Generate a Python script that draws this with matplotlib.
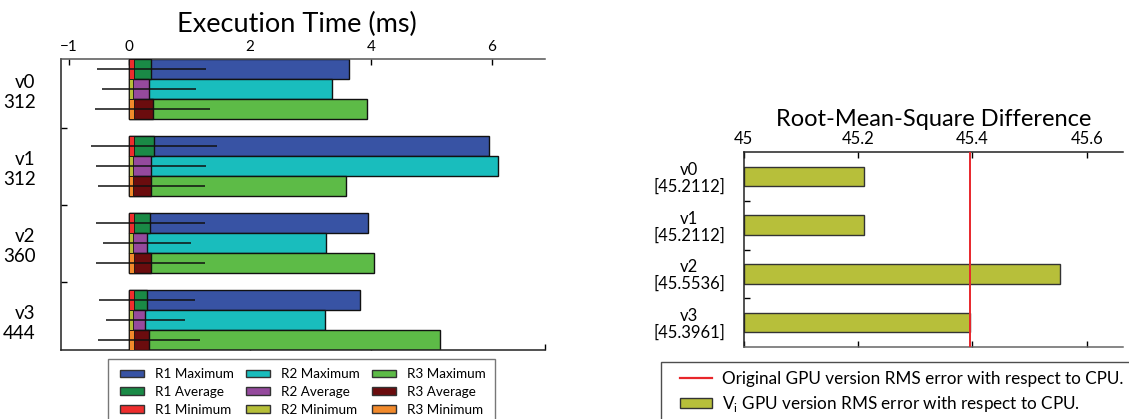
import matplotlib
matplotlib.use("Agg")
import matplotlib.pyplot as plt
from matplotlib.patches import Patch
from matplotlib.lines import Line2D
from matplotlib.legend_handler import HandlerPatch, HandlerLine2D
import numpy as np

plt.rcParams['font.family'] = ['Lato', 'DejaVu Sans']

# ---- execution time data (ms) ----
versions = ['v0', 'v1', 'v2', 'v3']
sizes = [312, 312, 360, 444]

r1_max = [3.64, 5.95, 3.95, 3.82]
r2_max = [3.36, 6.10, 3.25, 3.24]
r3_max = [3.93, 3.59, 4.05, 5.15]
r1_avg = [0.37, 0.41, 0.35, 0.30]
r2_avg = [0.33, 0.37, 0.30, 0.27]
r3_avg = [0.39, 0.37, 0.36, 0.33]
r1_min = [0.08, 0.08, 0.08, 0.08]
r2_min = [0.07, 0.06, 0.06, 0.06]
r3_min = [0.08, 0.07, 0.09, 0.08]
r1_std = [0.90, 1.04, 0.90, 0.79]
r2_std = [0.78, 0.91, 0.73, 0.65]
r3_std = [0.95, 0.89, 0.90, 0.84]

# ---- RMS difference data ----
rms_labels = ['v0', 'v1', 'v2', 'v3']
rms_values = [45.2112, 45.2112, 45.5536, 45.3961]
original_rms = 45.396

colors = {
    'R1': ('#3853a4', '#1a8a46', '#ee2d2d'),
    'R2': ('#19bdbd', '#954a9d', '#b6bf38'),
    'R3': ('#5dbb47', '#6b0c0e', '#f28a2b'),
}

W, H = 1129, 419
fig = plt.figure(figsize=(W / 100, H / 100), dpi=100)


def frac_rect(x0, y0, x1, y1):
    return [x0 / W, 1 - y1 / H, (x1 - x0) / W, (y1 - y0) / H]


# ================= Execution time =================
ax = fig.add_axes(frac_rect(61.3, 59.3, 545, 350))
bh = 0.26
runs = [
    ('R1', r1_max, r1_avg, r1_min, r1_std),
    ('R2', r2_max, r2_avg, r2_min, r2_std),
    ('R3', r3_max, r3_avg, r3_min, r3_std),
]
cats = np.arange(1, len(versions) + 1)
for k, (name, mx, av, mn, sd) in enumerate(runs):
    y = cats + (k - 1) * bh
    cmax, cavg, cmin = colors[name]
    ax.barh(y, mx, height=bh, color=cmax, edgecolor='#111111', linewidth=1.0, zorder=2)
    ax.barh(y, av, height=bh, color=cavg, edgecolor='#111111', linewidth=1.0, zorder=3)
    ax.barh(y, mn, height=bh, color=cmin, edgecolor='#111111', linewidth=0.6, zorder=4)
    av = np.array(av)
    sd = np.array(sd)
    ax.hlines(y, av - sd, av + sd, colors='#111111', linewidth=1.1, zorder=5)

ax.set_xlim(-1.12, 6.88)
ax.set_ylim(4.39, 0.61)
ax.set_xticks([-1, 0, 2, 4, 6])
ax.xaxis.set_ticks_position('top')
ax.tick_params(axis='x', direction='in', length=4, labelsize=11, pad=4,
               top=True, bottom=False, labeltop=True, labelbottom=False, width=1)
ax.set_yticks(cats)
ax.set_yticklabels([f'{v}\n{s}' for v, s in zip(versions, sizes)], fontsize=13.5,
                   linespacing=1.25)
ax.tick_params(axis='y', length=0, pad=18.5)
ax.set_yticks([1.5, 2.5, 3.5], minor=True)
ax.tick_params(axis='y', which='minor', direction='in', length=4, width=1)
ax.spines['right'].set_visible(False)
for s in ('top', 'bottom', 'left'):
    ax.spines[s].set_linewidth(1.1)
    ax.spines[s].set_color('#222222')
ax.spines['top'].set_color('#555555')
sec = ax.secondary_xaxis('bottom')
sec.set_xticks([2, 4, 6.88])
sec.tick_params(direction='in', length=4, labelbottom=False, width=1)
sec.spines['bottom'].set_visible(False)
ax.set_title('Execution Time (ms)', fontsize=19.5, pad=20, x=0.486)

handles = []
for name in ('R1', 'R2', 'R3'):
    cmax, cavg, cmin = colors[name]
    handles += [
        (Patch(facecolor=cmax, edgecolor='#333333'), f'{name} Maximum'),
        (Patch(facecolor=cavg, edgecolor='#333333'), f'{name} Average'),
        (Patch(facecolor=cmin, edgecolor='#333333'), f'{name} Minimum'),
    ]
leg = fig.legend([h for h, _ in handles], [l for _, l in handles], ncol=3,
                 loc='upper left', bbox_to_anchor=(108.3 / W, 1 - 359 / H),
                 fontsize=9.7, frameon=True, fancybox=False, borderaxespad=0,
                 handlelength=1.95, handleheight=0.5, handletextpad=0.8,
                 columnspacing=0.75, labelspacing=0.42, borderpad=0.7,
                 handler_map={Patch: HandlerPatch(xpad=0.19)})
leg.get_frame().set_edgecolor('#555555')
leg.get_frame().set_linewidth(1.0)

# ================= RMS difference =================
ax2 = fig.add_axes(frac_rect(743.7, 152.3, 1123.3, 346.7))
ypos = np.arange(1, len(rms_values) + 1)
ax2.barh(ypos, np.array(rms_values) - 45, left=45, height=0.4, color='#b7bf3a',
         edgecolor='#333333', linewidth=1.0, zorder=2)
ax2.axvline(original_rms, color='#e8262b', linewidth=1.4, zorder=3)
ax2.set_xlim(45, 45.664)
ax2.set_ylim(4.5, 0.5)
ax2.set_xticks([45, 45.2, 45.4, 45.6])
ax2.set_xticklabels(['45', '45.2', '45.4', '45.6'])
ax2.tick_params(axis='x', direction='in', length=4, labelsize=12, pad=4,
                top=True, bottom=True, labeltop=True, labelbottom=False, width=1)
ax2.set_yticks(ypos)
ax2.set_yticklabels([f'{l}\n[{v:.4f}]' for l, v in zip(rms_labels, rms_values)],
                    fontsize=12, linespacing=1.05, multialignment='center')
ax2.tick_params(axis='y', length=0, pad=13.5)
ax2.set_yticks([1.5, 2.5, 3.5], minor=True)
ax2.tick_params(axis='y', which='minor', direction='in', length=4, width=1)
ax2.spines['right'].set_visible(False)
for s in ('top', 'bottom', 'left'):
    ax2.spines[s].set_linewidth(1.1)
    ax2.spines[s].set_color('#222222')
ax2.spines['bottom'].set_color('#666666')
ax2.set_title('Root-Mean-Square Difference', fontsize=17, pad=19)

leg2 = fig.legend(
    [Line2D([], [], color='#e8262b', linewidth=1.6),
     Patch(facecolor='#b7bf3a', edgecolor='#333333')],
    ['Original GPU version RMS error with respect to CPU.',
     r'V$_\mathregular{i}$ GPU version RMS error with respect to CPU.'],
    loc='upper left', bbox_to_anchor=(660.7 / W, 1 - 362.3 / H),
    fontsize=12.3, frameon=True, fancybox=False, borderaxespad=0,
    handlelength=2.48, handleheight=0.58, handletextpad=0.58,
    labelspacing=0.42, borderpad=0.5,
    handler_map={Patch: HandlerPatch(xpad=0.62), Line2D: HandlerLine2D(xpad=0.62)})
leg2.get_frame().set_edgecolor('#222222')
leg2.get_frame().set_linewidth(1.0)

fig.savefig('out.png', dpi=100)
